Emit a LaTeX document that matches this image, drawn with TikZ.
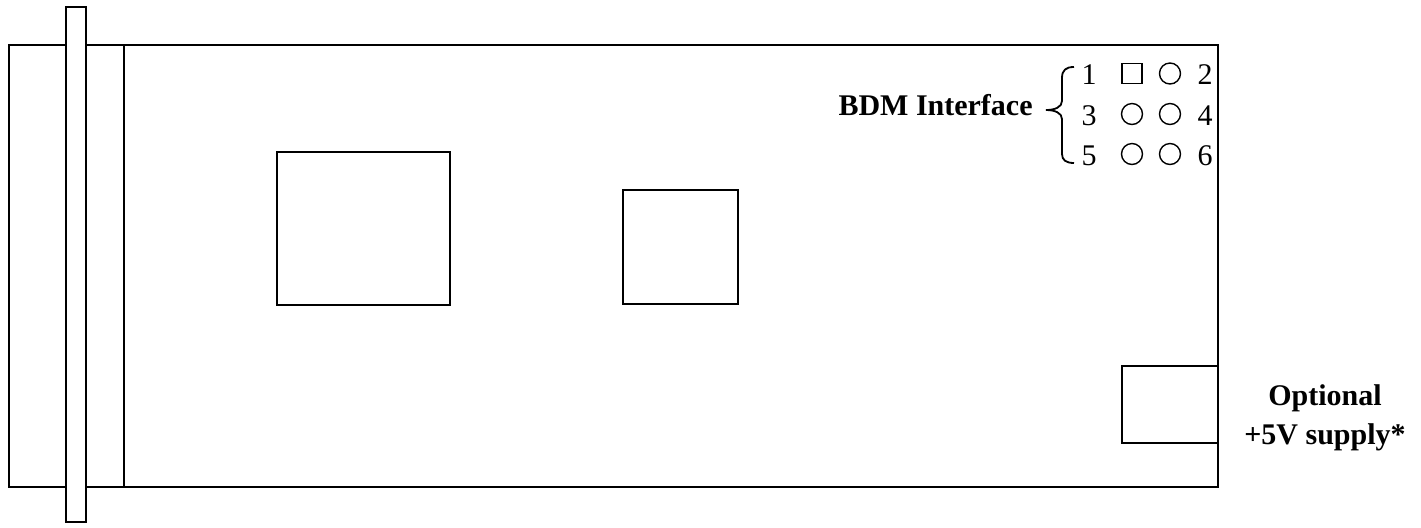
\documentclass[tikz,border=0pt]{standalone}
\usepackage{fontspec}
\setmainfont{Liberation Serif}
\begin{document}
\begin{tikzpicture}[x=0.5pt,y=-0.5pt,
  outline/.style={draw=black,line width=1pt},
  lbl/.style={font=\fontsize{15}{18}\selectfont\bfseries,inner sep=0pt},
  pinnum/.style={font=\fontsize{15}{18}\selectfont,inner sep=0pt,anchor=base},
  pinsq/.style={draw=black,line width=0.7pt,minimum size=10pt,inner sep=0pt},
  pinci/.style={draw=black,circle,line width=0.7pt,minimum size=10.5pt,inner sep=0pt}]
\useasboundingbox (0,0) rectangle (1421,527);
% board outline
\draw[outline] (9,45) rectangle (124,487);
\draw[outline] (124,45) rectangle (1218,487);
\draw[outline,fill=white] (66,7) rectangle (86,522);
% chips
\node[outline,minimum width=86.5pt,minimum height=76.5pt,inner sep=0pt] (chipA) at (363.5,228.5) {};
\node[outline,minimum width=57.5pt,minimum height=57pt,inner sep=0pt] (chipB) at (680.5,247) {};
\draw[outline] (1218,366) -- (1122,366) -- (1122,443) -- (1218,443);
% BDM pins
\node[pinnum] (n1) at (1089,84) {1};
\node[pinnum] (n2) at (1205,84) {2};
\node[pinnum] (n3) at (1089,125) {3};
\node[pinnum] (n4) at (1205,125) {4};
\node[pinnum] (n5) at (1089,165) {5};
\node[pinnum] (n6) at (1205,165) {6};
\node[pinsq] (p1) at (1132,73.5) {};
\node[pinci] (p2) at (1170,73.5) {};
\node[pinci] (p3) at (1132,114) {};
\node[pinci] (p4) at (1170,114) {};
\node[pinci] (p5) at (1132,154) {};
\node[pinci] (p6) at (1170,154) {};
% brace
\draw[line width=0.9pt] (1074,67) .. controls (1066,67) and (1062,70) .. (1062,78)
  -- (1062,101) .. controls (1062,107) and (1055,110) .. (1046,110)
  .. controls (1055,110) and (1062,113) .. (1062,119)
  -- (1062,154) .. controls (1062,160) and (1066,163) .. (1074,163);
\node[lbl,anchor=base east] (bdm) at (1033,115) {BDM Interface};
\node[lbl,anchor=base] (opt1) at (1325,405) {Optional};
\node[lbl,anchor=base] (opt2) at (1325,444) {+5V supply*};
\end{tikzpicture}
\end{document}
